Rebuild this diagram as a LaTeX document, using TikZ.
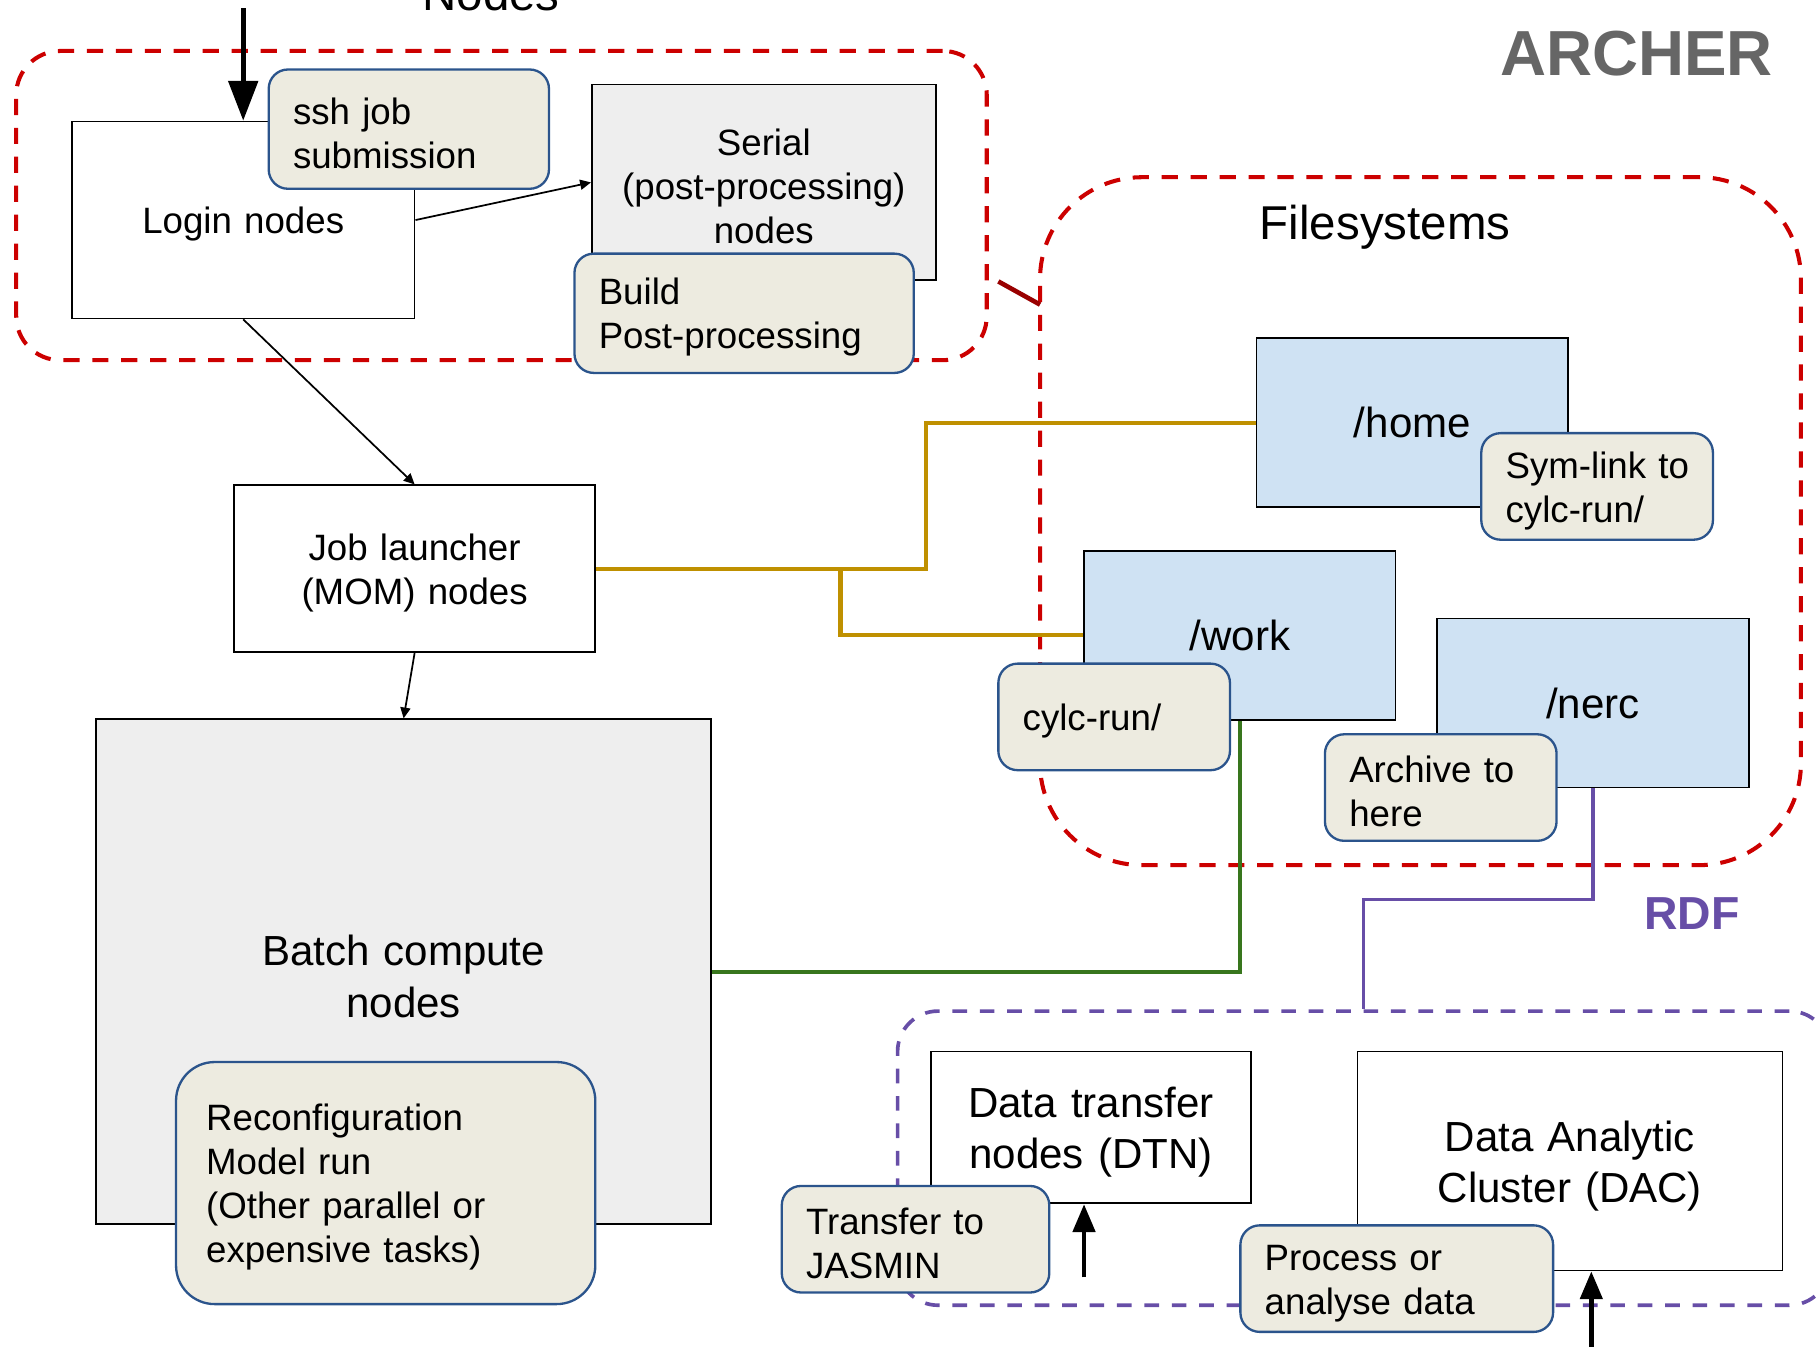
\documentclass[tikz,border=0pt]{standalone}
\usepackage{fontspec}
\setmainfont{Liberation Sans}
\usepackage{xcolor}
\usepackage{tikz}
\usetikzlibrary{arrows.meta}
\definecolor{arred}{RGB}{204, 0, 0}
\definecolor{ardarkred}{RGB}{153, 0, 0}
\definecolor{argold}{RGB}{191, 144, 0}
\definecolor{argreen}{RGB}{56, 118, 29}
\definecolor{arpurple}{RGB}{103, 78, 167}
\definecolor{arblue}{RGB}{207, 226, 243}
\definecolor{arlight}{RGB}{238, 238, 238}
\definecolor{arbeige}{RGB}{237, 235, 224}
\definecolor{arnavy}{RGB}{43, 84, 140}
\definecolor{argray}{RGB}{102, 102, 102}
\newcommand{\fsmall}{\fontsize{9.5}{11.4}\selectfont}
\newcommand{\fmid}{\fontsize{10.9}{13.3}\selectfont}
\newcommand{\fbig}{\fontsize{12.3}{14.5}\selectfont}
\newcommand{\topstrut}{\rule{0pt}{0.95em}}

\begin{document}
\begin{tikzpicture}[x=0.3pt, y=-0.3pt,
  hostbox/.style={draw=black, line width=0.45pt, fill=white, inner sep=0pt, align=center, font=\fsmall,
    execute at begin node=\topstrut},
  fsbox/.style={draw=black, line width=0.45pt, fill=arblue, inner sep=0pt, align=center, font=\fmid,
    minimum width=80.7pt, minimum height=43.8pt},
  callout/.style={draw=arnavy, line width=0.6pt, fill=arbeige, rounded corners=5pt,
    inner xsep=6.3pt, inner ysep=0pt, align=left, font=\fsmall, execute at begin node=\topstrut},
  redframe/.style={draw=arred, line width=1.05pt, dash pattern=on 4.2pt off 3.3pt},
  rdfframe/.style={draw=arpurple, line width=0.95pt, dash pattern=on 3.8pt off 3.3pt},
  goldline/.style={draw=argold, line width=1.1pt},
  greenline/.style={draw=argreen, line width=1.1pt},
  purpleline/.style={draw=arpurple, line width=0.9pt},
  thinarrow/.style={-{Triangle[length=2.8pt,width=2.6pt]}, line width=0.45pt},
  bigarrow/.style={-{Triangle[length=10.3pt,width=7.5pt]}, line width=1.35pt},
  uparrow/.style={-{Triangle[length=7.2pt,width=5.7pt]}, line width=1.2pt}]
\useasboundingbox (0,0) rectangle (1568,1163);

% Group frames
\node[redframe, minimum width=251.4pt, minimum height=80.1pt, rounded corners=11.4pt] (nodesgrp) at (433,177.5) {};
\node[redframe, minimum width=197.1pt, minimum height=178.2pt, rounded corners=26.4pt] (fsgrp) at (1226.5,450) {};
\node[rdfframe, minimum width=241.5pt, minimum height=76.2pt, rounded corners=10.5pt] (rdfgrp) at (1177.5,1000) {};

% Titles
\node[font=\fbig, anchor=base] (nodestitle) at (424,9) {Nodes};
\node[font=\fbig, anchor=base] (fstitle) at (1196,207) {Filesystems};
\node[font=\bfseries\fontsize{16.5}{18}\selectfont, text=argray] (archertitle) at (1413,46) {ARCHER};
\node[font=\bfseries\fontsize{12}{14}\selectfont, text=arpurple] (rdftitle) at (1461,789) {RDF};

% Link between the groups
\coordinate (grplinkA) at (862,243);
\coordinate (grplinkB) at (898,263);
\draw[ardarkred, line width=1.2pt] (grplinkA) -- (grplinkB);

% Host nodes
\node[hostbox, text width=88.8pt, minimum height=51pt] (login) at (210,190) {Login nodes};
\node[hostbox, fill=arlight, text width=89.1pt, minimum height=50.7pt] (serial) at (659.5,157.5) {Serial\\(post-processing)\\nodes};
\node[hostbox, text width=93.6pt, minimum height=43.2pt] (job) at (358,491) {Job launcher\\(MOM) nodes};
\node[hostbox, fill=arlight, font=\fmid, text width=159.3pt, minimum height=130.8pt] (batch) at (348.5,839) {Batch compute\\nodes};

% Filesystems
\node[fsbox] (home) at (1219.5,365) {/home};
\node[fsbox] (work) at (1070.5,548.5) {/work};
\node[fsbox] (nerc) at (1375.5,607) {/nerc};

% RDF nodes
\node[hostbox, font=\fmid, text width=82.8pt, minimum height=39.3pt] (dtn) at (942,973.5) {Data transfer\\nodes (DTN)};
\node[hostbox, font=\fmid, text width=110.1pt, minimum height=56.7pt] (dac) at (1355.5,1002.5) {Data Analytic\\Cluster (DAC)};

% Connectors
\draw[goldline] (job.east) -- ++(285,0) |- (home.west);
\draw[goldline] (job.east) -- ++(211,0) |- (work.west);
\draw[greenline] (batch.east) -| (work.south);
\draw[purpleline] (nerc.south) -- ++(0,96) -| (rdfgrp.north);
\draw[thinarrow] (login.east) -- (serial.west);
\draw[thinarrow] (login.south) -- (job.north);
\draw[thinarrow] (job.south) -- (batch.north);

% Callouts
\node[callout, text width=60pt, minimum height=30.9pt] (ssh) at (353,111.5) {ssh job\\submission};
\node[callout, text width=75.3pt, minimum height=30.9pt] (build) at (642.5,270.5) {Build\\Post-processing};
\node[callout, rounded corners=10pt, inner xsep=7.8pt, text width=93pt, minimum height=62.7pt] (reconf) at (333,1021.5) {Reconfiguration\\Model run\\(Other parallel or\\expensive tasks)};
\node[callout, text width=47.4pt, minimum height=27.6pt] (symlink) at (1379,420) {\mbox{Sym-link to}\\cylc-run/};
\node[callout, text width=47.4pt, minimum height=27.6pt] (cylcrun) at (962,619) {cylc-run/};
\node[callout, text width=47.4pt, minimum height=27.6pt] (archive) at (1244,680) {Archive to\\here};
\node[callout, text width=56.7pt, minimum height=27.6pt] (jasmin) at (790.5,1070) {Transfer to\\JASMIN};
\node[callout, text width=68.4pt, minimum height=27.6pt] (process) at (1206,1104) {Process or\\analyse data};

% Incoming arrows
\coordinate (sshin) at (210,7);
\coordinate (dtnin) at (936,1103);
\coordinate (dacin) at (1374,1170);
\draw[bigarrow] (sshin) -- (login.north);
\draw[uparrow] (dtnin) -- (dtnin |- dtn.south);
\draw[uparrow] (dacin) -- (dacin |- dac.south);
\end{tikzpicture}
\end{document}
